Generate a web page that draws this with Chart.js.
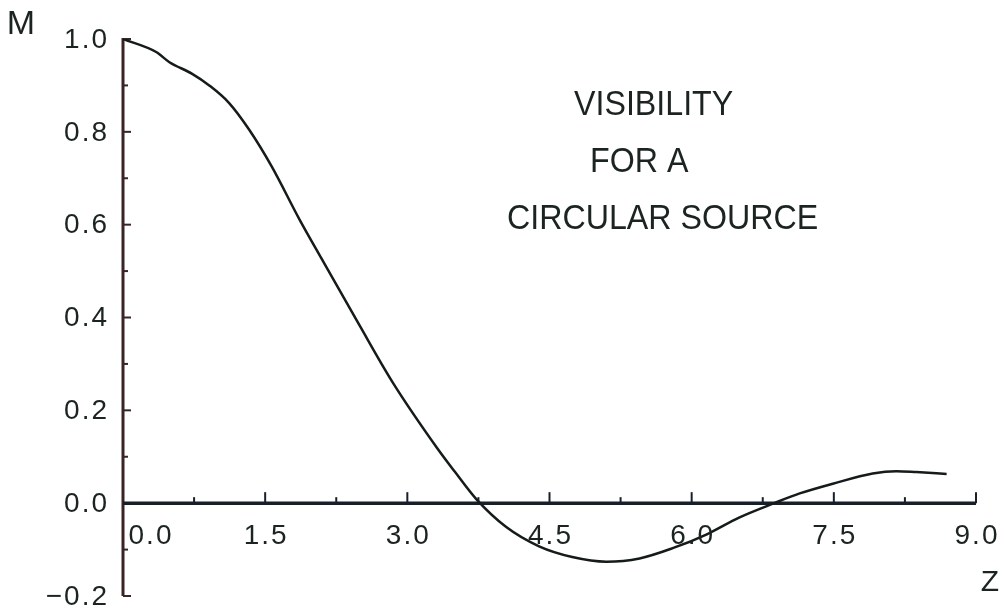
<!DOCTYPE html>
<html>
<head>
<meta charset="utf-8">
<title>Visibility for a circular source</title>
<script src="https://cdn.jsdelivr.net/npm/chart.js@4.4.1/dist/chart.umd.min.js"></script>
<style>
    html, body { margin: 0; padding: 0; background: #ffffff; }
    #wrap { position: relative; width: 1006px; height: 615px; }
</style>
</head>
<body>
<div id="wrap"><canvas id="visibilityChart"></canvas></div>
<script>
// Curve (Z, M)
const zValues = [0, 0.35, 0.49, 0.73, 0.91, 1.12, 1.33, 1.57, 1.86, 2.10, 2.49, 2.84, 3.31, 3.50, 3.73,
                 4.04, 4.39, 4.74, 5.10, 5.45, 5.80, 6.16, 6.50, 6.87, 7.14, 7.49, 7.91, 8.16, 8.37, 8.69];
const mValues = [1.0, 0.972, 0.950, 0.925, 0.900, 0.862, 0.805, 0.725, 0.612, 0.525, 0.385, 0.262, 0.120, 0.068, 0.008,
                 -0.051, -0.093, -0.116, -0.126, -0.119, -0.097, -0.067, -0.031, 0.0, 0.021, 0.042, 0.064, 0.069, 0.067, 0.063];

// Axis ticks
const xTicks = [0, 1.5, 3.0, 4.5, 6.0, 7.5, 9.0];
const xTickLabels = ['0.0', '1.5', '3.0', '4.5', '6.0', '7.5', '9.0'];
const yTicks = [-0.2, 0, 0.2, 0.4, 0.6, 0.8, 1.0];
const yTickLabels = ['\u22120.2', '0.0', '0.2', '0.4', '0.6', '0.8', '1.0'];
const titleLines = ['VISIBILITY', 'FOR A', 'CIRCULAR SOURCE'];

const FONT = '"Liberation Sans", Arial, sans-serif';
const INK = '#1c2421';

// Draws the plotter-style axes (ticks inside, x axis through zero) and all the text
const plotterAxes = {
    id: 'plotterAxes',
    beforeDatasetsDraw(chart) {
        const { ctx, scales: { x, y } } = chart;
        const x0 = x.getPixelForValue(0);
        const y0 = y.getPixelForValue(0);
        ctx.save();

        // vertical axis
        ctx.strokeStyle = '#3a2425';
        ctx.lineWidth = 3;
        ctx.beginPath();
        ctx.moveTo(x0, y.getPixelForValue(1.0) - 1);
        ctx.lineTo(x0, y.getPixelForValue(-0.2));
        ctx.stroke();

        // y ticks pointing right, minor ticks halfway
        ctx.lineWidth = 2;
        yTicks.forEach((v, i) => {
            const py = y.getPixelForValue(v);
            ctx.beginPath();
            ctx.moveTo(x0, py);
            ctx.lineTo(x0 + 8, py);
            ctx.stroke();
            if (i < yTicks.length - 1) {
                const pm = y.getPixelForValue((v + yTicks[i + 1]) / 2);
                ctx.beginPath();
                ctx.moveTo(x0, pm);
                ctx.lineTo(x0 + 5, pm);
                ctx.stroke();
            }
        });

        // horizontal axis at M = 0
        ctx.strokeStyle = '#17202a';
        ctx.lineWidth = 3.5;
        ctx.beginPath();
        ctx.moveTo(x0, y0);
        ctx.lineTo(x.getPixelForValue(9.0), y0);
        ctx.stroke();

        // x ticks pointing up
        ctx.lineWidth = 2;
        xTicks.forEach((v, i) => {
            const px = x.getPixelForValue(v);
            if (i > 0) {
                ctx.beginPath();
                ctx.moveTo(px, y0);
                ctx.lineTo(px, y0 - 11);
                ctx.stroke();
            }
            if (i < xTicks.length - 1) {
                const pm = x.getPixelForValue((v + xTicks[i + 1]) / 2);
                ctx.beginPath();
                ctx.moveTo(pm, y0);
                ctx.lineTo(pm, y0 - 6);
                ctx.stroke();
            }
        });
        ctx.restore();
    },
    afterDraw(chart) {
        const { ctx, scales: { x, y } } = chart;
        const x0 = x.getPixelForValue(0);
        const y0 = y.getPixelForValue(0);
        ctx.save();
        ctx.fillStyle = INK;
        ctx.textBaseline = 'middle';
        ctx.font = '28px ' + FONT;
        ctx.letterSpacing = '2px';

        // y tick labels
        ctx.textAlign = 'right';
        yTicks.forEach((v, i) => {
            ctx.fillText(yTickLabels[i], x0 - 14, y.getPixelForValue(v) + 1);
        });

        // x tick labels (0.0 is pushed right of the vertical axis)
        ctx.textAlign = 'center';
        xTicks.forEach((v, i) => {
            const px = x.getPixelForValue(v) + (i === 0 ? 28 : 1);
            ctx.fillText(xTickLabels[i], px, y0 + 33);
        });

        // axis names
        ctx.letterSpacing = '0px';
        ctx.font = '34px ' + FONT;
        ctx.fillText('M', 21, 25);
        ctx.font = '30px ' + FONT;
        ctx.fillText('Z', 990, 583);

        // caption, slightly condensed like the plotter lettering
        ctx.font = '35px ' + FONT;
        ctx.textAlign = 'left';
        const squeeze = 0.92;
        ctx.scale(squeeze, 1);
        ctx.fillText(titleLines[0], 574 / squeeze, 105);
        ctx.fillText(titleLines[1], 590 / squeeze, 162);
        ctx.fillText(titleLines[2], 507 / squeeze, 219);
        ctx.restore();
    }
};

const ctx = document.getElementById('visibilityChart');
ctx.chart = new Chart(ctx, {
    type: 'line',
    data: {
        datasets: [{
            label: 'M',
            data: zValues.map((z, i) => ({ x: z, y: mValues[i] })),
            borderColor: '#151b1b',
            borderWidth: 2.5,
            pointRadius: 0,
            fill: false,
            cubicInterpolationMode: 'monotone'
        }]
    },
    options: {
        responsive: true,
        maintainAspectRatio: false,
        animation: false,
        events: [],
        layout: {
            padding: { left: 123, right: 30, top: 39, bottom: 19 }
        },
        scales: {
            x: { type: 'linear', min: 0, max: 9.0, display: false },
            y: { type: 'linear', min: -0.2, max: 1.0, display: false }
        },
        plugins: {
            legend: { display: false },
            tooltip: { enabled: false }
        }
    },
    plugins: [plotterAxes]
});
</script>
</body>
</html>
